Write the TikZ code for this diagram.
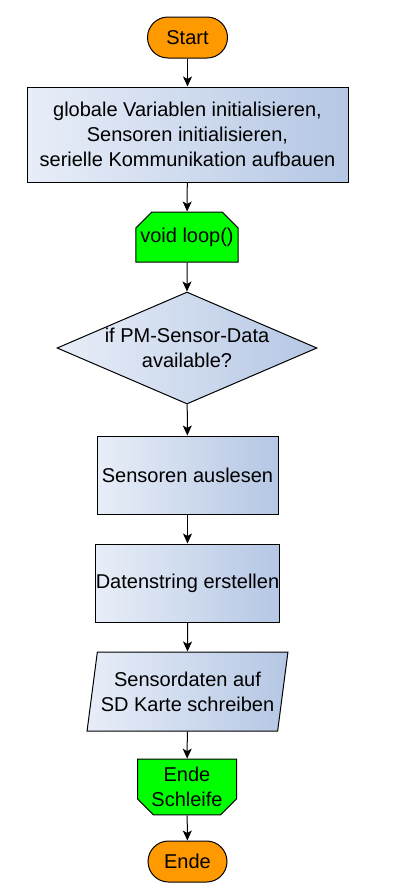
\documentclass[tikz,border=0pt]{standalone}
\usepackage{fontspec}
\setmainfont{Liberation Sans}
\usetikzlibrary{shapes.geometric,shapes.misc,arrows.meta}
\definecolor{termorange}{RGB}{255,153,0}
\definecolor{loopgreen}{RGB}{0,255,0}
\definecolor{boxlight}{RGB}{232,238,248}
\definecolor{boxdark}{RGB}{181,199,228}

\begin{document}
\begin{tikzpicture}[x=1pt,y=-1pt,
  every node/.style={font=\fontsize{20}{25}\selectfont,align=center,draw,line width=1pt,inner sep=0pt},
  term/.style={rounded rectangle,fill=termorange,minimum width=80pt,minimum height=41pt},
  proc/.style={rectangle,left color=boxlight,right color=boxdark},
  loopbox/.style={chamfered rectangle,fill=loopgreen,chamfered rectangle xsep=8pt,chamfered rectangle ysep=8pt,inner xsep=-3.5pt,minimum width=99pt,minimum height=50pt},
  decide/.style={diamond,left color=boxlight,right color=boxdark,aspect=2.32,minimum width=260pt,minimum height=112pt},
  io/.style={trapezium,trapezium left angle=76,trapezium right angle=104,trapezium stretches=true,left color=boxlight,right color=boxdark,minimum width=201pt,minimum height=79pt},
  flow/.style={line width=1pt,-{Stealth[length=10pt,width=9pt,inset=2.5pt]}}]
\useasboundingbox (0,0) rectangle (413,895);

\node[term] (start) at (187.5,37.5) {Start};
\node[proc,minimum width=321pt,minimum height=95pt] (init) at (187.5,134.5)
  {globale Variablen initialisieren,\\Sensoren initialisieren,\\serielle Kommunikation aufbauen};
\node[loopbox,chamfered rectangle corners={north west,north east}] (loop) at (187,237) {void loop()};
\node[decide] (check) at (187,348) {if PM-Sensor-Data\\available?};
\node[proc,minimum width=181pt,minimum height=78pt] (read) at (187.5,475) {Sensoren auslesen};
\node[proc,minimum width=181pt,minimum height=78pt] (build) at (187.5,583) {Datenstring erstellen};
\node[io] (write) at (187.5,691.5) {Sensordaten auf\\SD Karte schreiben};
\node[loopbox,chamfered rectangle corners={south west,south east}] (endloop) at (187,787) {Ende\\Schleife};
\node[term,minimum width=79pt] (finish) at (187.5,861.5) {Ende};

% Verbindungen
\draw[flow] (start) -- (init);
\draw[flow] (init) -- (loop);
\draw[flow] (loop) -- (check);
\draw[flow] (check) -- (read);
\draw[flow] (read) -- (build);
\draw[flow] (build) -- (write);
\draw[flow] (write) -- (endloop);
\draw[flow] (endloop) -- (finish);
\end{tikzpicture}
\end{document}
